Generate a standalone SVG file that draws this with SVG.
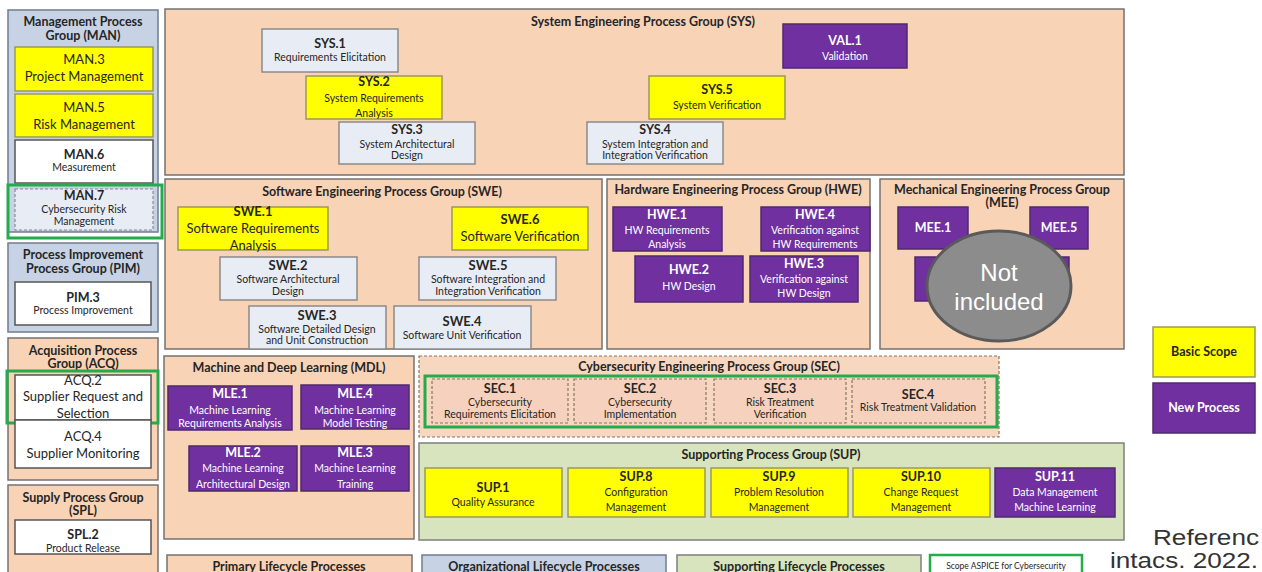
<svg xmlns="http://www.w3.org/2000/svg" width="1262" height="572" viewBox="0 0 1262 572">
<defs>
<style>
.gp{fill:#f9d3b6;stroke:#767171;stroke-width:1.5}
.gb{fill:#c7d3e5;stroke:#6f7d91;stroke-width:1.5}
.gg{fill:#d7e4bd;stroke:#7f7f7f;stroke-width:1.5}
.gs{fill:#f8d7c1;stroke:#8a7464;stroke-width:1.2;stroke-dasharray:3 2}
.nl{fill:#e8edf5;stroke:#8a8a8a;stroke-width:1.5}
.ny{fill:#ffff00;stroke:#9a9a55;stroke-width:1.5}
.np{fill:#7030a0;stroke:#4e2a6d;stroke-width:1.5}
.nw{fill:#ffffff;stroke:#555555;stroke-width:1.5}
.ns{fill:#f6d1bd;stroke:#8a7464;stroke-width:1.2;stroke-dasharray:3 2}
.nd{fill:#e8edf5;stroke:#8a8a8a;stroke-width:1.2;stroke-dasharray:3 2}
.hl{fill:none;stroke:#22ac4c;stroke-width:3}
text{font-family:Lato,"Liberation Sans",sans-serif;text-anchor:middle;fill:#262626}
.b{font-weight:bold}
.w{fill:#ffffff}
.t{font-size:12.5px;font-weight:bold}
.c{font-size:12.5px;font-weight:bold}
.d{font-size:10.5px}
.big{font-size:13px}
</style>
</defs>

<!-- Left column -->
<g id="MAN">
<rect class="gb" x="8" y="10" width="150" height="222"/>
<text class="t" x="83" y="26">Management Process</text>
<text class="t" x="83" y="40">Group (MAN)</text>
</g>
<g id="MAN3">
<rect class="ny" x="15" y="47" width="138" height="44"/>
<text class="big" x="84" y="64">MAN.3</text>
<text class="big" x="84" y="81">Project Management</text>
</g>
<g id="MAN5">
<rect class="ny" x="15" y="94" width="138" height="43"/>
<text class="big" x="84" y="112">MAN.5</text>
<text class="big" x="84" y="129">Risk Management</text>
</g>
<g id="MAN6">
<rect class="nw" x="15" y="140" width="138" height="43"/>
<text class="c" x="84" y="159">MAN.6</text>
<text class="d" x="84" y="171">Measurement</text>
</g>
<g id="MAN7">
<rect class="nd" x="15" y="189" width="138" height="41"/>
<text class="c" x="84" y="200">MAN.7</text>
<text class="d" x="84" y="213">Cybersecurity Risk</text>
<text class="d" x="84" y="225">Management</text>
<rect class="hl" x="8" y="185" width="154" height="53"/>
</g>

<g id="PIM">
<rect class="gb" x="8" y="243" width="150" height="89"/>
<text class="t" x="83" y="259">Process Improvement</text>
<text class="t" x="83" y="273">Process Group (PIM)</text>
</g>
<g id="PIM3">
<rect class="nw" x="15" y="282" width="136" height="43"/>
<text class="c" x="83" y="302">PIM.3</text>
<text class="d" x="83" y="314">Process Improvement</text>
</g>

<g id="ACQ">
<rect class="gp" x="8" y="338" width="150" height="142"/>
<text class="t" x="83" y="355">Acquisition Process</text>
<text class="t" x="83" y="368">Group (ACQ)</text>
</g>
<g id="ACQ2">
<rect class="nw" x="15" y="375" width="136" height="45"/>
<text class="big" x="83" y="385">ACQ.2</text>
<text class="big" x="83" y="401">Supplier Request and</text>
<text class="big" x="83" y="418">Selection</text>
<rect class="hl" x="7" y="371" width="151" height="52"/>
</g>
<g id="ACQ4">
<rect class="nw" x="15" y="420" width="136" height="48"/>
<text class="big" x="83" y="441">ACQ.4</text>
<text class="big" x="83" y="458">Supplier Monitoring</text>
</g>

<g id="SPL">
<rect class="gp" x="8" y="485" width="150" height="95"/>
<text class="t" x="83" y="502">Supply Process Group</text>
<text class="t" x="83" y="515">(SPL)</text>
</g>
<g id="SPL2">
<rect class="nw" x="15" y="520" width="136" height="34"/>
<text class="c" x="83" y="539">SPL.2</text>
<text class="d" x="83" y="552">Product Release</text>
</g>

<!-- SYS -->
<g id="SYS">
<rect class="gp" x="165" y="9" width="959" height="166"/>
<text class="t" x="643" y="26">System Engineering Process Group (SYS)</text>
</g>
<g id="SYS1">
<rect class="nl" x="262" y="29" width="136" height="43"/>
<text class="c" x="330" y="48">SYS.1</text>
<text class="d" x="330" y="61">Requirements Elicitation</text>
</g>
<g id="SYS2">
<rect class="ny" x="306" y="76" width="136" height="43"/>
<text class="c" x="374" y="86">SYS.2</text>
<text class="d" x="374" y="102">System Requirements</text>
<text class="d" x="374" y="117">Analysis</text>
</g>
<g id="SYS3">
<rect class="nl" x="339" y="122" width="136" height="42"/>
<text class="c" x="407" y="134">SYS.3</text>
<text class="d" x="407" y="148">System Architectural</text>
<text class="d" x="407" y="159">Design</text>
</g>
<g id="SYS4">
<rect class="nl" x="587" y="122" width="136" height="42"/>
<text class="c" x="655" y="134">SYS.4</text>
<text class="d" x="655" y="148">System Integration and</text>
<text class="d" x="655" y="159">Integration Verification</text>
</g>
<g id="SYS5">
<rect class="ny" x="649" y="76" width="136" height="43"/>
<text class="c" x="717" y="94">SYS.5</text>
<text class="d" x="717" y="109">System Verification</text>
</g>
<g id="VAL1">
<rect class="np" x="783" y="24" width="124" height="44"/>
<text class="c w" x="845" y="45">VAL.1</text>
<text class="d w" x="845" y="60">Validation</text>
</g>

<!-- SWE -->
<g id="SWE">
<rect class="gp" x="165" y="179" width="437" height="170"/>
<text class="t" x="382" y="196">Software Engineering Process Group (SWE)</text>
</g>
<g id="SWE1">
<rect class="ny" x="178" y="207" width="150" height="43"/>
<text class="big b" x="253" y="216">SWE.1</text>
<text class="big" x="253" y="233">Software Requirements</text>
<text class="big" x="253" y="250">Analysis</text>
</g>
<g id="SWE6">
<rect class="ny" x="452" y="207" width="136" height="43"/>
<text class="big b" x="520" y="224">SWE.6</text>
<text class="big" x="520" y="241">Software Verification</text>
</g>
<g id="SWE2">
<rect class="nl" x="220" y="257" width="137" height="43"/>
<text class="big b" x="288" y="270">SWE.2</text>
<text class="d" x="288" y="283">Software Architectural</text>
<text class="d" x="288" y="295">Design</text>
</g>
<g id="SWE5">
<rect class="nl" x="419" y="257" width="137" height="43"/>
<text class="big b" x="488" y="270">SWE.5</text>
<text class="d" x="488" y="283">Software Integration and</text>
<text class="d" x="488" y="295">Integration Verification</text>
</g>
<g id="SWE3">
<rect class="nl" x="249" y="306" width="137" height="43"/>
<text class="big b" x="317" y="320">SWE.3</text>
<text class="d" x="317" y="333">Software Detailed Design</text>
<text class="d" x="317" y="344">and Unit Construction</text>
</g>
<g id="SWE4">
<rect class="nl" x="394" y="306" width="137" height="43"/>
<text class="big b" x="462" y="326">SWE.4</text>
<text class="d" x="462" y="339">Software Unit Verification</text>
</g>

<!-- HWE -->
<g id="HWE">
<rect class="gp" x="607" y="179" width="263" height="170"/>
<text class="t" x="738" y="194">Hardware Engineering Process Group (HWE)</text>
</g>
<g id="HWE1">
<rect class="np" x="613" y="207" width="109" height="44"/>
<text class="c w" x="667" y="219">HWE.1</text>
<text class="d w" x="667" y="234">HW Requirements</text>
<text class="d w" x="667" y="248">Analysis</text>
</g>
<g id="HWE4">
<rect class="np" x="761" y="207" width="109" height="44"/>
<text class="c w" x="815" y="219">HWE.4</text>
<text class="d w" x="815" y="234">Verification against</text>
<text class="d w" x="815" y="248">HW Requirements</text>
</g>
<g id="HWE2">
<rect class="np" x="635" y="256" width="108" height="46"/>
<text class="c w" x="689" y="274">HWE.2</text>
<text class="d w" x="689" y="290">HW Design</text>
</g>
<g id="HWE3">
<rect class="np" x="750" y="256" width="108" height="46"/>
<text class="c w" x="804" y="268">HWE.3</text>
<text class="d w" x="804" y="283">Verification against</text>
<text class="d w" x="804" y="297">HW Design</text>
</g>

<!-- MEE -->
<g id="MEE">
<rect class="gp" x="880" y="179" width="244" height="170"/>
<text class="t" x="1002" y="194">Mechanical Engineering Process Group</text>
<text class="t" x="1002" y="207">(MEE)</text>
</g>
<g id="MEE1">
<rect class="np" x="898" y="207" width="70" height="42"/>
<text class="c w" x="933" y="232">MEE.1</text>
</g>
<g id="MEE5">
<rect class="np" x="1030" y="207" width="58" height="42"/>
<text class="c w" x="1059" y="232">MEE.5</text>
</g>
<g id="MEE2">
<rect class="np" x="915" y="257" width="74" height="44"/>
</g>
<g id="MEE3">
<rect class="np" x="1000" y="257" width="69" height="44"/>
</g>
<g id="not-included">
<ellipse cx="999" cy="286" rx="72" ry="55" fill="#8c8c8c" stroke="#5a5a5a" stroke-width="3"/>
<text x="999" y="281" style="font-family:'Liberation Sans',Arial,sans-serif;font-size:24px;fill:#ffffff">Not</text>
<text x="999" y="310" style="font-family:'Liberation Sans',Arial,sans-serif;font-size:24px;fill:#ffffff">included</text>
</g>

<!-- MDL -->
<g id="MDL">
<rect class="gp" x="164" y="356" width="250" height="183"/>
<text class="t" x="289" y="372">Machine and Deep Learning (MDL)</text>
</g>
<g id="MLE1">
<rect class="np" x="168" y="386" width="124" height="44"/>
<text class="c w" x="230" y="398">MLE.1</text>
<text class="d w" x="230" y="414">Machine Learning</text>
<text class="d w" x="230" y="427">Requirements Analysis</text>
</g>
<g id="MLE4">
<rect class="np" x="301" y="385" width="108" height="44"/>
<text class="c w" x="355" y="398">MLE.4</text>
<text class="d w" x="355" y="414">Machine Learning</text>
<text class="d w" x="355" y="427">Model Testing</text>
</g>
<g id="MLE2">
<rect class="np" x="189" y="446" width="108" height="45"/>
<text class="c w" x="243" y="457">MLE.2</text>
<text class="d w" x="243" y="472">Machine Learning</text>
<text class="d w" x="243" y="488">Architectural Design</text>
</g>
<g id="MLE3">
<rect class="np" x="301" y="446" width="108" height="45"/>
<text class="c w" x="355" y="457">MLE.3</text>
<text class="d w" x="355" y="472">Machine Learning</text>
<text class="d w" x="355" y="488">Training</text>
</g>

<!-- SEC -->
<g id="SEC">
<rect class="gs" x="419" y="356" width="580" height="81"/>
<text class="t" x="709" y="371">Cybersecurity Engineering Process Group (SEC)</text>
</g>
<g id="SEC1">
<rect class="ns" x="432" y="379" width="136" height="44"/>
<text class="c" x="500" y="393">SEC.1</text>
<text class="d" x="500" y="406">Cybersecurity</text>
<text class="d" x="500" y="418">Requirements Elicitation</text>
</g>
<g id="SEC2">
<rect class="ns" x="574" y="379" width="132" height="44"/>
<text class="c" x="640" y="393">SEC.2</text>
<text class="d" x="640" y="406">Cybersecurity</text>
<text class="d" x="640" y="418">Implementation</text>
</g>
<g id="SEC3">
<rect class="ns" x="714" y="379" width="132" height="44"/>
<text class="c" x="780" y="393">SEC.3</text>
<text class="d" x="780" y="406">Risk Treatment</text>
<text class="d" x="780" y="418">Verification</text>
</g>
<g id="SEC4">
<rect class="ns" x="852" y="379" width="133" height="44"/>
<text class="c" x="918" y="399">SEC.4</text>
<text class="d" x="918" y="411">Risk Treatment Validation</text>
</g>
<rect class="hl" x="425" y="376" width="572" height="51"/>

<!-- SUP -->
<g id="SUP">
<rect class="gg" x="419" y="443" width="705" height="97"/>
<text class="t" x="771" y="459">Supporting Process Group (SUP)</text>
</g>
<g id="SUP1">
<rect class="ny" x="425" y="468" width="137" height="49"/>
<text class="c" x="493" y="492">SUP.1</text>
<text class="d" x="493" y="506">Quality Assurance</text>
</g>
<g id="SUP8">
<rect class="ny" x="568" y="468" width="137" height="49"/>
<text class="c" x="636" y="481">SUP.8</text>
<text class="d" x="636" y="496">Configuration</text>
<text class="d" x="636" y="511">Management</text>
</g>
<g id="SUP9">
<rect class="ny" x="711" y="468" width="137" height="49"/>
<text class="c" x="779" y="481">SUP.9</text>
<text class="d" x="779" y="496">Problem Resolution</text>
<text class="d" x="779" y="511">Management</text>
</g>
<g id="SUP10">
<rect class="ny" x="853" y="468" width="137" height="49"/>
<text class="c" x="921" y="481">SUP.10</text>
<text class="d" x="921" y="496">Change Request</text>
<text class="d" x="921" y="511">Management</text>
</g>
<g id="SUP11">
<rect class="np" x="995" y="468" width="120" height="49"/>
<text class="c w" x="1055" y="481">SUP.11</text>
<text class="d w" x="1055" y="496">Data Management</text>
<text class="d w" x="1055" y="511">Machine Learning</text>
</g>

<g id="connectors"></g>

<!-- Legends -->
<g id="legend-primary">
<rect class="gp" x="167" y="555" width="245" height="30"/>
<text class="t" x="289" y="571">Primary Lifecycle Processes</text>
</g>
<g id="legend-org">
<rect class="gb" x="422" y="555" width="244" height="30"/>
<text class="t" x="544" y="571">Organizational Lifecycle Processes</text>
</g>
<g id="legend-sup">
<rect class="gg" x="677" y="555" width="244" height="30"/>
<text class="t" x="799" y="571">Supporting Lifecycle Processes</text>
</g>
<g id="legend-scope">
<rect x="930" y="555" width="152" height="30" fill="#ffffff" stroke="#22ac4c" stroke-width="2.5"/>
<text x="1006" y="569" style="font-size:8.5px">Scope ASPICE for Cybersecurity</text>
</g>
<g id="legend-basic">
<rect class="ny" x="1153" y="327" width="102" height="50"/>
<text class="c" x="1204" y="356">Basic Scope</text>
</g>
<g id="legend-new">
<rect class="np" x="1153" y="383" width="102" height="50"/>
<text class="c w" x="1204" y="412">New Process</text>
</g>
<g id="reference">
<text x="1153" y="545" textLength="106" lengthAdjust="spacingAndGlyphs" style="text-anchor:start;font-family:'Liberation Sans',Arial,sans-serif;font-size:22px;fill:#333333">Referenc</text>
<text x="1110" y="568" textLength="148" lengthAdjust="spacingAndGlyphs" style="text-anchor:start;font-family:'Liberation Sans',Arial,sans-serif;font-size:22px;fill:#333333">intacs. 2022.</text>
</g>
</svg>
